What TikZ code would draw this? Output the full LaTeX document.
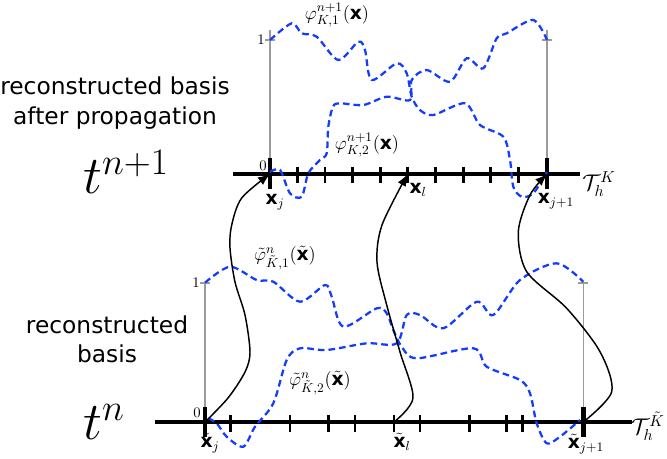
\RequirePackage{fix-cm}
\documentclass[tikz,border=0pt]{standalone}
\usepackage{fontspec}
\setmainfont{DejaVu Sans}
\usetikzlibrary{arrows.meta}
\begin{document}
\begin{tikzpicture}[x=0.75pt,y=0.75pt,yscale=-1,xscale=1,
  axis/.style={line width=2.5pt},
  tickmark/.style={line width=2.1pt},
  bigtick/.style={line width=3.5pt},
  guide/.style={color={rgb,255:red,155;green,155;blue,155},line width=0.9pt},
  basis/.style={color={rgb,255:red,20;green,60;blue,255},line width=1.7pt,dash pattern={on 5pt off 3pt}},
  flow/.style={line width=1.1pt,-{Latex[length=9pt,width=7pt]}},
  lbl/.style={font=\fontsize{14}{16}\selectfont},
  ptlbl/.style={font=\fontsize{14}{16}\selectfont},
  num/.style={font=\fontsize{11}{13}\selectfont,inner sep=1pt},
  side/.style={align=center,font=\fontsize{17.5}{22}\selectfont},
  timelbl/.style={anchor=west,inner sep=0pt,font=\fontsize{40}{44}\selectfont},
  ]
\useasboundingbox (0,0) rectangle (667,458);

\coordinate (xj) at (270,174);
\coordinate (xl) at (407.7,174);
\coordinate (xj1) at (547,174);
\coordinate (txj) at (205,422);
\coordinate (txl) at (394,422);
\coordinate (txj1) at (583.3,422);

%top mesh
\draw [guide] (xj) -- (270,30) (265,40) -- (275,40);
\draw [guide] (xj1) -- (547,30) (542,40) -- (552,40);
\draw [axis] (233,174) -- (580,174);
\foreach \x in {297.3,325,352.7,380.3,407.7,435.7,463.3,490.7,518.3}
  \draw [tickmark] (\x,167) -- (\x,183);
\draw [bigtick] (270,158) -- (270,189) (547,158) -- (547,189);

%bottom mesh
\draw [guide] (txj) -- (205,282) (200,283) -- (210,283);
\draw [guide] (txj1) -- (583.3,282) (578.3,283) -- (588.3,283);
\draw [axis] (155,422) -- (632,422);
\foreach \x in {230.7,290,328.3,355,394,420,469.3,506.7,522.7}
  \draw [tickmark] (\x,415) -- (\x,431.7);
\draw [bigtick] (205,407) -- (205,437) (583.3,407) -- (583.3,437);

\draw [basis] plot [smooth] coordinates {(270,40) (291.7,23.3) (301.7,33.3) (316.7,36.7) (338.3,60) (358.3,41.7) (365,50) (371.7,80) (396.7,63.3) (406.7,73.3) (411.7,96.7) (420,110) (433.3,115) (465,103.3) (480,125) (503.3,136.7) (510,160) (513.3,186.7) (521.7,196.7) (533.3,193.3) (547,172)};
\draw [basis] plot [smooth] coordinates {(270,172) (280,170) (290,193.3) (301.7,196.7) (308.3,173.3) (320,160) (326.7,153.3) (328.3,126.7) (333,106.7) (340,103.3) (363.3,105) (386.7,96.7) (410,100) (411.7,80) (426.7,70) (450,81.7) (466.7,58.3) (483.3,68.3) (496.7,38.3) (506.7,33.3) (533.3,20) (547,40)};
\draw [basis] plot [smooth] coordinates {(205,282.7) (230,266.7) (256.7,280) (273.3,281.7) (300,301.7) (325,285) (331.7,296.7) (343.3,326.7) (376.7,308.3) (386.7,313.3) (393.3,330) (401.7,346.7) (416.7,358.3) (473.3,348.3) (486.7,366.7) (520,380) (530,393.3) (536.7,423.3) (546.7,443.3) (560,436.7) (580,420)};
\draw [basis] plot [smooth] coordinates {(208.3,418.3) (216.7,423.3) (226.7,436.7) (243.3,446.7) (255,426.7) (273.3,403.3) (286.7,360) (300,348.3) (326.7,350) (366.7,343.3) (396.7,343.3) (406.7,315) (420,315) (443.3,328.3) (476.7,301.7) (493.3,315) (520,280) (556.7,263.3) (583.3,281.7)};

\draw [flow] plot [smooth] coordinates {(txj) (228,398) (245,372) (250,352) (245,315) (235,282) (230,248) (231.7,225) (241.7,198) (xj)};
\draw [flow] plot [smooth] coordinates {(txl) (413,398) (400,352) (386.7,305) (377,262) (382,225) (xl)};
\draw [flow] plot [smooth] coordinates {(txj1) (611.7,391.7) (600,351.7) (566.7,308.3) (526.7,271.7) (518.3,231.7) (530,195) (xj1)};

\node [side] (toptext) at (115,103) {reconstructed basis\\after propagation};
\node [side] (bottext) at (107,339) {reconstructed\\basis};
\node [timelbl] (tnext) at (83,172) {$t^{n+1}$};
\node [timelbl] (tnow) at (83,422) {$t^{n}$};

\node [num] (onetop) at (261,40) {$1$};
\node [num] (zerotop) at (263,166) {$0$};
\node [num] (onebot) at (196,283) {$1$};
\node [num] (zerobot) at (197,413) {$0$};

\node [ptlbl] (lxj) at (275,202) {$\mathbf{x}_j$};
\node [ptlbl] (lxl) at (418,190) {$\mathbf{x}_l$};
\node [ptlbl] (lxj1) at (556,201) {$\mathbf{x}_{j+1}$};
\node [ptlbl] (ltxj) at (210,443) {$\tilde{\mathbf{x}}_j$};
\node [ptlbl] (ltxl) at (402,442) {$\tilde{\mathbf{x}}_l$};
\node [ptlbl] (ltxj1) at (586,444) {$\tilde{\mathbf{x}}_{j+1}$};
\node [font=\fontsize{17}{20}\selectfont] (meshtop) at (599,184) {$\mathcal{T}_h^{K}$};
\node [font=\fontsize{17}{20}\selectfont] (meshbot) at (648,426) {$\mathcal{T}_h^{\tilde{K}}$};

\node [lbl] (phione) at (337,15) {$\varphi^{n+1}_{K,1}(\mathbf{x})$};
\node [lbl] (phitwo) at (367,145) {$\varphi^{n+1}_{K,2}(\mathbf{x})$};
\node [lbl] (tphione) at (285,258) {$\tilde{\varphi}^{n}_{\tilde{K},1}(\tilde{\mathbf{x}})$};
\node [lbl] (tphitwo) at (320,383) {$\tilde{\varphi}^{n}_{\tilde{K},2}(\tilde{\mathbf{x}})$};

\end{tikzpicture}
\end{document}
